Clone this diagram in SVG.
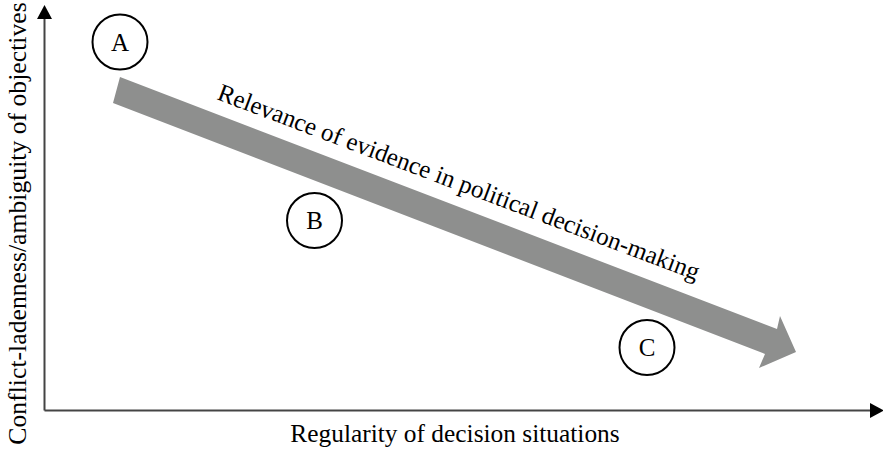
<svg xmlns="http://www.w3.org/2000/svg" width="883" height="449" viewBox="0 0 883 449" font-family="'Liberation Serif', 'Times New Roman', serif">
  <style>
    text { font-family: 'Liberation Serif', 'Times New Roman', serif; font-size: 25px; fill: #000; }
    .node circle { fill: none; stroke: #000; stroke-width: 2; }
    .node text { text-anchor: middle; }
    .axis { stroke: #444; stroke-width: 2; fill: none; }
    .ylabel { font-size: 25.7px; }
    .xlabel { font-size: 25.4px; }
  </style>
  <defs>
    <marker id="ah" viewBox="0 0 14 15" refX="0" refY="7.5" markerWidth="14" markerHeight="15" markerUnits="userSpaceOnUse" orient="auto">
      <path d="M0,0 L14,7.5 L0,15 Z" fill="#000"/>
    </marker>
  </defs>

  <g id="connectors">
    <line class="axis" x1="44.5" y1="410.5" x2="44.5" y2="19" marker-end="url(#ah)"/>
    <line class="axis" x1="44.5" y1="410.5" x2="870" y2="410.5" marker-end="url(#ah)"/>
  </g>

  <g id="trend-arrow">
    <polygon points="120,77 777,329 780,316 796,352 759,368 765,354 113,103" fill="#8e8f8e"/>
    <text transform="translate(216,99) rotate(20.7)">Relevance of evidence in political decision-making</text>
  </g>

  <g id="node-A" class="node">
    <circle cx="120" cy="42" r="27.5"/>
    <text x="120" y="50.5">A</text>
  </g>
  <g id="node-B" class="node">
    <circle cx="314.5" cy="220.5" r="27.5"/>
    <text x="314.5" y="229">B</text>
  </g>
  <g id="node-C" class="node">
    <circle cx="647" cy="347.5" r="27.5"/>
    <text x="647" y="356">C</text>
  </g>

  <g id="labels">
    <text class="ylabel" transform="translate(25.5,223.5) rotate(-90)" text-anchor="middle">Conflict-ladenness/ambiguity of objectives</text>
    <text class="xlabel" x="455" y="441.5" text-anchor="middle">Regularity of decision situations</text>
  </g>
</svg>
